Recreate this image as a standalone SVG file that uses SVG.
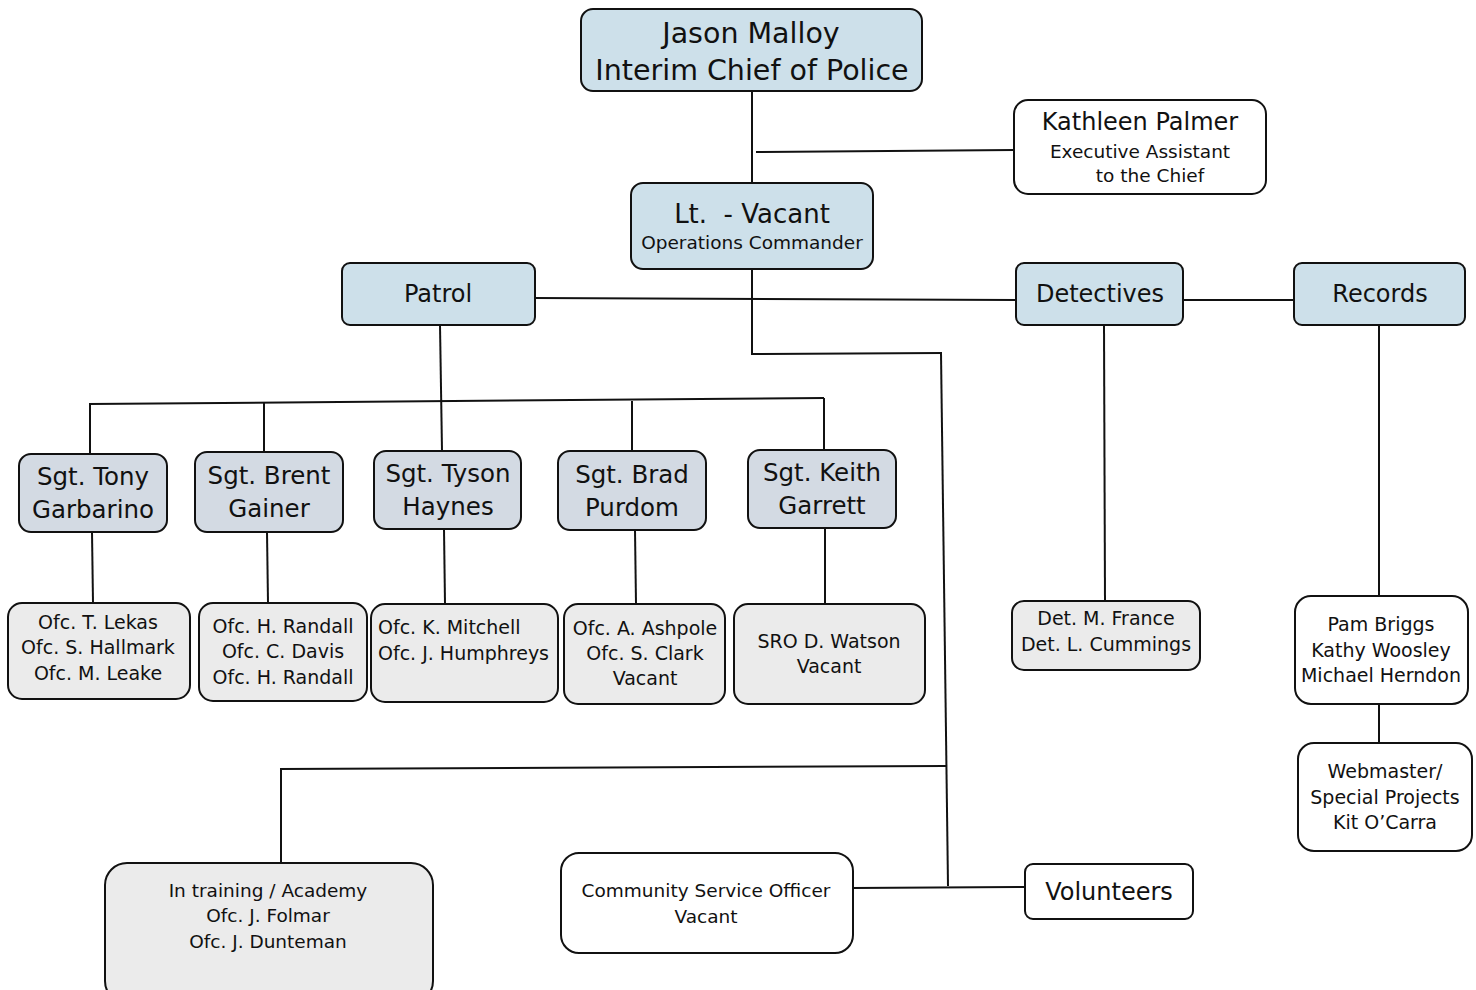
<svg xmlns="http://www.w3.org/2000/svg" width="1476" height="990" viewBox="0 0 1476 990">
<style>
.b{stroke:#111;stroke-width:2}
.blue{fill:#cde0ea}
.sgt{fill:#d3dae3}
.gray{fill:#ebebeb}
.white{fill:#fff}
text{font-family:"DejaVu Sans",Verdana,sans-serif;fill:#111;text-anchor:middle}
.t26{font-size:28.5px}
.t24{font-size:24.5px}
.t22{font-size:24px}
.t18{font-size:19px}
.t17{font-size:18.5px}
#conn line{stroke:#111;stroke-width:2}
</style>
<rect width="1476" height="990" fill="#fff"/>
<g id="conn">
<line x1="752" y1="91" x2="752" y2="183"/>
<line x1="756" y1="152" x2="1014" y2="150"/>
<line x1="535" y1="298" x2="1016" y2="300"/>
<line x1="1183" y1="300" x2="1294" y2="300"/>
<line x1="752" y1="269" x2="752" y2="355"/>
<line x1="752" y1="354" x2="942" y2="353"/>
<line x1="941" y1="353" x2="948" y2="886"/>
<line x1="280" y1="769" x2="946" y2="766"/>
<line x1="281" y1="769" x2="281" y2="863"/>
<line x1="853" y1="888" x2="1025" y2="887"/>
<line x1="440" y1="325" x2="442" y2="451"/>
<line x1="89" y1="404" x2="824" y2="398"/>
<line x1="90" y1="404" x2="90" y2="454"/>
<line x1="264" y1="403" x2="264" y2="452"/>
<line x1="632" y1="401" x2="632" y2="451"/>
<line x1="824" y1="398" x2="824" y2="450"/>
<line x1="92" y1="532" x2="93" y2="603"/>
<line x1="267" y1="532" x2="268" y2="603"/>
<line x1="444" y1="529" x2="445" y2="604"/>
<line x1="635" y1="530" x2="636" y2="604"/>
<line x1="825" y1="528" x2="825" y2="604"/>
<line x1="1104" y1="325" x2="1105" y2="601"/>
<line x1="1379" y1="325" x2="1379" y2="596"/>
<line x1="1379" y1="704" x2="1379" y2="743"/>
</g>
<g id="chief"><rect class="b blue" x="581" y="9" width="341" height="82" rx="12"/><text class="t26" x="751" y="43">Jason Malloy</text><text class="t26" x="752" y="80">Interim Chief of Police</text></g>
<g id="assistant"><rect class="b white" x="1014" y="100" width="252" height="94" rx="14"/><text class="t22" x="1140" y="130">Kathleen Palmer</text><text class="t17" x="1140" y="158">Executive Assistant</text><text class="t17" x="1150" y="182">to the Chief</text></g>
<g id="lt"><rect class="b blue" x="631" y="183" width="242" height="86" rx="12"/><text class="t26" x="752" y="223" xml:space="preserve" style="font-size:26px">Lt.  - Vacant</text><text class="t17" x="752" y="249">Operations Commander</text></g>
<g id="patrol"><rect class="b blue" x="342" y="263" width="193" height="62" rx="8"/><text class="t22" x="438" y="302">Patrol</text></g>
<g id="detectives"><rect class="b blue" x="1016" y="263" width="167" height="62" rx="8"/><text class="t22" x="1100" y="302">Detectives</text></g>
<g id="records"><rect class="b blue" x="1294" y="263" width="171" height="62" rx="8"/><text class="t22" x="1380" y="302">Records</text></g>
<g id="sgt1"><rect class="b sgt" x="19" y="454" width="148" height="78" rx="12"/><text class="t24" x="93" y="485">Sgt. Tony</text><text class="t24" x="93" y="518">Garbarino</text></g>
<g id="sgt2"><rect class="b sgt" x="195" y="452" width="148" height="80" rx="12"/><text class="t24" x="269" y="484">Sgt. Brent</text><text class="t24" x="269" y="517">Gainer</text></g>
<g id="sgt3"><rect class="b sgt" x="374" y="451" width="147" height="78" rx="12"/><text class="t24" x="448" y="482">Sgt. Tyson</text><text class="t24" x="448" y="515">Haynes</text></g>
<g id="sgt4"><rect class="b sgt" x="558" y="451" width="148" height="79" rx="12"/><text class="t24" x="632" y="483">Sgt. Brad</text><text class="t24" x="632" y="516">Purdom</text></g>
<g id="sgt5"><rect class="b sgt" x="748" y="450" width="148" height="78" rx="12"/><text class="t24" x="822" y="481">Sgt. Keith</text><text class="t24" x="822" y="514">Garrett</text></g>
<g id="ofc1"><rect class="b gray" x="8" y="603" width="182" height="96" rx="14"/><text class="t18" x="98" y="629">Ofc. T. Lekas</text><text class="t18" x="98" y="654">Ofc. S. Hallmark</text><text class="t18" x="98" y="680">Ofc. M. Leake</text></g>
<g id="ofc2"><rect class="b gray" x="199" y="603" width="168" height="98" rx="14"/><text class="t18" x="283" y="633">Ofc. H. Randall</text><text class="t18" x="283" y="658">Ofc. C. Davis</text><text class="t18" x="283" y="684">Ofc. H. Randall</text></g>
<g id="ofc3"><rect class="b gray" x="371" y="604" width="187" height="98" rx="14"/><text class="t18" x="378" y="634" style="text-anchor:start">Ofc. K. Mitchell</text><text class="t18" x="378" y="660" style="text-anchor:start">Ofc. J. Humphreys</text></g>
<g id="ofc4"><rect class="b gray" x="564" y="604" width="161" height="100" rx="14"/><text class="t18" x="645" y="635">Ofc. A. Ashpole</text><text class="t18" x="645" y="660">Ofc. S. Clark</text><text class="t18" x="645" y="685">Vacant</text></g>
<g id="ofc5"><rect class="b gray" x="734" y="604" width="191" height="100" rx="14"/><text class="t18" x="829" y="648">SRO D. Watson</text><text class="t18" x="829" y="673">Vacant</text></g>
<g id="dets"><rect class="b gray" x="1012" y="601" width="188" height="69" rx="12"/><text class="t18" x="1106" y="625">Det. M. France</text><text class="t18" x="1106" y="651">Det. L. Cummings</text></g>
<g id="recstaff"><rect class="b white" x="1295" y="596" width="173" height="108" rx="16"/><text class="t18" x="1381" y="631">Pam Briggs</text><text class="t18" x="1381" y="657">Kathy Woosley</text><text class="t18" x="1381" y="682">Michael Herndon</text></g>
<g id="webmaster"><rect class="b white" x="1298" y="743" width="174" height="108" rx="16"/><text class="t18" x="1385" y="778">Webmaster/</text><text class="t18" x="1385" y="804">Special Projects</text><text class="t18" x="1385" y="829">Kit O’Carra</text></g>
<g id="training"><rect class="b gray" x="105" y="863" width="328" height="140" rx="22"/><text class="t17" x="268" y="897">In training / Academy</text><text class="t17" x="268" y="922">Ofc. J. Folmar</text><text class="t17" x="268" y="948">Ofc. J. Dunteman</text></g>
<g id="cso"><rect class="b white" x="561" y="853" width="292" height="100" rx="18"/><text class="t17" x="706" y="897">Community Service Officer</text><text class="t17" x="706" y="923">Vacant</text></g>
<g id="volunteers"><rect class="b white" x="1025" y="864" width="168" height="55" rx="8"/><text class="t22" x="1109" y="900">Volunteers</text></g>
</svg>
